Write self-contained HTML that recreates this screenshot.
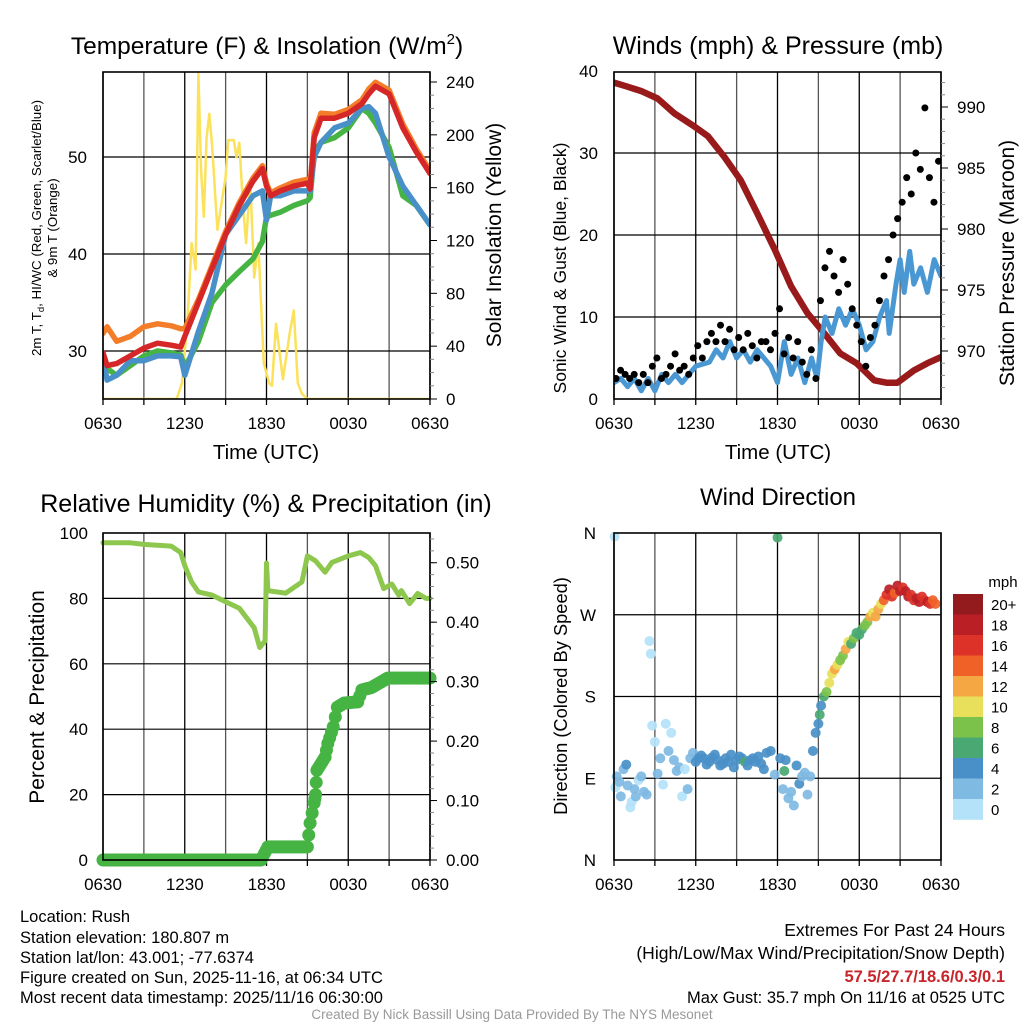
<!DOCTYPE html>
<html><head><meta charset="utf-8">
<style>
html,body{margin:0;padding:0;background:#fff;}
svg{display:block;font-family:"Liberation Sans",Arial,sans-serif;}
</style></head>
<body>
<svg id="c" width="1024" height="1024" viewBox="0 0 1024 1024" xmlns="http://www.w3.org/2000/svg">
<g id="txt">
<text x="267" y="54" font-size="24.5" text-anchor="middle">Temperature (F) &amp; Insolation (W/m<tspan dy="-10" font-size="15">2</tspan><tspan dy="10">)</tspan></text>
<text x="778" y="54" font-size="25" text-anchor="middle">Winds (mph) &amp; Pressure (mb)</text>
<text x="266" y="512" font-size="25" text-anchor="middle">Relative Humidity (%) &amp; Precipitation (in)</text>
<text x="778" y="505" font-size="24" text-anchor="middle">Wind Direction</text>
<text x="266" y="459" font-size="20.5" text-anchor="middle">Time (UTC)</text>
<text x="778" y="459" font-size="20.5" text-anchor="middle">Time (UTC)</text>
<text transform="translate(41,228) rotate(-90)" font-size="13.3" text-anchor="middle">2m T, T<tspan dy="3" font-size="9.5">d</tspan><tspan dy="-3">, HI/WC (Red, Green, Scarlet/Blue)</tspan></text>
<text transform="translate(57,228) rotate(-90)" font-size="13.3" text-anchor="middle">&amp; 9m T (Orange)</text>
<text transform="translate(501,235) rotate(-90)" font-size="21" text-anchor="middle">Solar Insolation (Yellow)</text>
<text transform="translate(566,268) rotate(-90)" font-size="17.5" text-anchor="middle">Sonic Wind &amp; Gust (Blue, Black)</text>
<text transform="translate(1014,263) rotate(-90)" font-size="21" text-anchor="middle">Station Pressure (Maroon)</text>
<text transform="translate(44,697) rotate(-90)" font-size="21" text-anchor="middle">Percent &amp; Precipitation</text>
<text transform="translate(567,696) rotate(-90)" font-size="18.3" text-anchor="middle">Direction (Colored By Speed)</text>
<text x="1003" y="587" font-size="15" text-anchor="middle">mph</text>
<g font-size="16.5">
<text x="20" y="922">Location: Rush</text>
<text x="20" y="943">Station elevation: 180.807 m</text>
<text x="20" y="963">Station lat/lon: 43.001; -77.6374</text>
<text x="20" y="983">Figure created on Sun, 2025-11-16, at 06:34 UTC</text>
<text x="20" y="1003">Most recent data timestamp: 2025/11/16 06:30:00</text>
</g>
<g font-size="17.5" text-anchor="end">
<text x="1005" y="936">Extremes For Past 24 Hours</text>
<text x="1005" y="959">(High/Low/Max Wind/Precipitation/Snow Depth)</text>
<text x="1005" y="982" fill="#c8252b" font-weight="bold" font-size="16.5">57.5/27.7/18.6/0.3/0.1</text>
<text x="1005" y="1003" font-size="16.5">Max Gust: 35.7 mph On 11/16 at 0525 UTC</text>
</g>
<text x="512" y="1019" font-size="13.5" fill="#999" text-anchor="middle">Created By Nick Bassill Using Data Provided By The NYS Mesonet</text>
</g>
</svg>
<script>
// ---------- data ----------
const xTickLabels = ["0630","1230","1830","0030","0630"];
const tempT = [0,0.3,1,2,3,4,5,5.7,6,7,8,9,10,11,11.7,12,12.3,13,14,15,15.2,15.5,16,17,18,19,19.5,20,21,22,23,24];
const tempRed = [29.8,28.5,28.7,29.5,30.3,30.8,30.6,30.4,31.5,35,38.5,42,45,47.5,48.8,47,46,46.5,47,47.3,46.7,52,54,54,54.5,55.5,56.5,57.3,56.5,53,50.5,48.3];
const tempOrange = [31.8,32.5,31,31.5,32.5,32.8,32.6,32.3,32.3,35.3,38.8,42.3,45.3,47.8,49.1,47.3,46.3,46.8,47.4,47.7,47,52.5,54.5,54.4,54.9,55.9,57,57.7,56.9,53.4,50.8,48.6];
const tempGreen = [29.3,28.2,27.5,28.5,29.5,30,29.8,29.6,28.3,31,35,36.8,38.2,39.5,41.3,43.8,44,44.3,45,45.5,45.8,50.5,51.5,52,53,55,54.5,53.5,51,46,45,43];
const tempBlue = [29.3,27,27.5,29,29,29.5,29.5,29.4,27.5,32,36,42,44,46,46.5,43.5,46,46,46.5,46.5,46.5,50,51.5,53,53.5,55,55.2,54.5,50,47,45,43];
const solarT = [0,5.4,5.8,6.2,6.5,6.8,7.0,7.2,7.4,7.6,7.8,8.0,8.4,9.0,9.2,9.6,9.8,10.0,10.3,10.5,10.8,11.1,11.4,11.8,12.2,12.4,12.7,13.2,13.7,14.0,14.3,14.6,15.0,24];
const solarV = [0,0,12,60,118,98,247,173,138,198,216,193,128,168,196,196,183,194,143,118,166,92,118,27,12,10,57,15,50,67,12,4,0,0];
const presT = [0,0.9,2,3.2,4.4,5.9,6.9,8.1,9.3,10.5,11.8,13,14.2,15.4,16.6,17.8,19.1,20,20.8,22,23,24];
const presV = [992,991.7,991.3,990.7,989.5,988.4,987.6,985.9,984,981.3,978.3,975.3,973.1,971.5,969.8,969,967.6,967.4,967.4,968.4,969,969.5];
const windT = [0,0.5,1,1.5,2,2.5,3,3.5,4,4.5,5,5.5,6,7,7.5,8,8.5,9,9.5,10,10.5,11,11.5,12,12.5,13,13.5,14,14.5,14.9,15.2,15.5,16,16.5,17,17.5,18,18.5,19,19.5,20,20.2,20.7,21,21.3,21.7,22,22.5,23,23.5,24];
const windV = [2,2.5,1.5,2.5,1,2.5,1,3,2,3,2,3,4,4.5,6,5,7,5,6,4.5,6,5,4,2,7,3,5,2,5,2.5,7,10,8,11,9,11,9,6,7,10,12,8,14,17,13,18,14,16,13,17,15];
const gustV = [2.5,3.5,3, 2.5,3,2, 3,2,4, 5,2.5,3, 4,5.5,3.5, 4,3,5, 6.5,5,7, 8,7,9, 7,8.5,6, 7.5,6,8, 6.5,5,7, 7,6,8, 11,5.5,7.5, 5,7,4.5, 3,6,2.5, 12,16,18, 15,13,17, 14,11,9, 7,4,7.5, 9,12,15, 17,20,22, 24,27,25, 30,28,35.5, 27,24,29];
const rhT = [0,2,3,5,5.7,6,6.5,7,8,9,10,11.1,11.5,11.9,12,12.1,13.4,14.6,15,15.6,16.3,16.8,18,18.9,19.5,20,20.6,21.2,21.7,21.9,22.5,23.1,23.7,24];
const rhV = [97,97,96.5,96,94,90,85,82,81,79,77,71,65,67,90.8,82.4,81.6,85,93,91.5,88,91,93,94,92.5,90,83,84.4,81,82.4,78.4,81.5,80,80];
const pcpT = [0,11.6,12.1,15.0,15.2,15.5,15.6,15.7,16.3,16.5,16.9,17.2,17.7,18.7,19.0,19.7,20.9,24];
const pcpV = [0,0,0.022,0.022,0.062,0.096,0.11,0.151,0.173,0.196,0.224,0.257,0.264,0.266,0.286,0.29,0.306,0.306];
const dirT = [0.05,0.1,0.2,0.4,0.5,0.7,0.9,1.0,1.2,1.3,1.5,1.6,1.8,2.0,2.2,2.4,2.6,2.7,2.8,3.0,3.2,3.4,3.6,3.8,4.0,4.2,4.4,4.6,4.8,5.0,5.2,5.4,5.6,5.8,6.0,6.2,6.4,6.6,6.8,7.0,7.2,7.4,7.6,7.8,8.0,8.2,8.4,8.6,8.8,9.0,9.2,9.4,9.6,9.8,10.0,10.2,10.4,10.6,10.8,11.0,11.2,11.5,11.8,12.0,12.2,12.4,12.5,12.6,12.8,13.0,13.2,13.4,13.6,13.8,14.0,14.2,14.4,14.6,14.8,15.0,15.1,15.2,15.4,15.6,15.8,16.0,16.2,16.4,16.6,16.8,17.0,17.2,17.4,17.6,17.8,18.0,18.2,18.4,18.6,18.8,19.0,19.2,19.4,19.6,19.8,20.0,20.2,20.4,20.6,20.8,21.0,21.2,21.4,21.6,21.8,22.0,22.2,22.4,22.6,22.8,23.0,23.2,23.4,23.6,23.8,24.0];
const dirV = [356,80,92,86,70,100,105,82,58,64,78,70,88,92,75,72,241,227,148,130,95,112,83,150,120,140,110,98,102,70,100,78,112,118,108,112,115,112,105,108,113,116,110,104,106,112,108,116,102,110,114,112,108,104,110,112,108,114,106,100,118,120,94,355,112,78,98,110,68,75,60,104,84,92,96,72,92,120,140,150,160,170,180,185,195,205,210,215,220,225,232,240,238,244,250,248,254,258,262,268,272,268,276,282,286,292,298,290,294,302,296,300,296,290,292,286,288,284,290,286,284,282,286,282];
const dirS = [1,1,2,3,3,3,4,2,1,1,3,3,1,2,2,3,1,1,1,1,3,3,1,1,2,1,2,3,3,1,1,3,2,3,4,4,4,4,5,4,4,5,4,4,5,4,4,5,4,5,4,5,6,4,5,4,5,4,5,5,4,5,3,7,4,3,6,4,3,3,2,4,5,3,2,2,3,4,4,5,6,5,6,9,10,11,12,11,8,9,12,10,7,8,7,6,7,8,9,12,11,13,12,11,15,16,18,17,15,19,18,16,19,18,17,16,18,19,17,16,18,17,15,14];
const cbLabels = ["20+","18","16","14","12","10","8","6","4","2","0"];
const cbColors = ["#931a1d","#bb1f26","#dc3227","#f06128","#f5a744","#e8e05a","#7bc24b","#4aa873","#4a90c8","#7fbae3","#b4e2f8"];

// ---------- helpers ----------
const NS="http://www.w3.org/2000/svg";
const svg=document.getElementById('c');
const TF=17;
function mk(tag,attrs,parent){const e=document.createElementNS(NS,tag);for(const k in attrs)e.setAttribute(k,attrs[k]);(parent||svg).appendChild(e);return e;}
function panel(x0,y0,w,h){return {x0,y0,w,h,X:t=>x0+t*w/24};}
function lin(d0,d1,p0,p1){return v=>p0+(v-d0)*(p1-p0)/(d1-d0);}
function grid(P,g,yvals,Y){
  for(let i=0;i<=8;i++){const x=P.X(i*3);
    const l=mk('line',{x1:x,x2:x,y1:P.y0,y2:P.y0+P.h,stroke:i%2?'#555':'#000','stroke-width':1.3},g);
    
    const tk=mk('line',{x1:x,x2:x,y1:P.y0+P.h,y2:P.y0+P.h+6,stroke:'#000','stroke-width':1.3},g);
    }
  yvals.forEach(v=>{const y=Y(v);const l=mk('line',{x1:P.x0,x2:P.x0+P.w,y1:y,y2:y,stroke:'#000','stroke-width':1.2},g);
    });
  xTickLabels.forEach((s,i)=>{const t=mk('text',{x:P.X(i*6),y:P.y0+P.h+30,'font-size':TF,'text-anchor':'middle'},g);t.textContent=s;
    });
}
function frame(P,g){const r=mk('rect',{x:P.x0,y:P.y0,width:P.w,height:P.h,fill:'none',stroke:'#000','stroke-width':1.6},g);
  }
function yLabels(g,vals,Y,x,anchor,fmt){vals.forEach(v=>{const t=mk('text',{x:x,y:Y(v)+6,'font-size':TF,'text-anchor':anchor},g);t.textContent=fmt?fmt(v):v;
  });}
function rightTicks(g,P,vals,Y,minor){vals.forEach(v=>{const y=Y(v);const l=mk('line',{x1:P.x0+P.w,x2:P.x0+P.w+(minor?4:7),y1:y,y2:y,stroke:minor?'#888':'#000','stroke-width':1},g);
  });}
function line(g,P,T,V,Y,color,w,name){const pts=T.map((t,i)=>P.X(t).toFixed(1)+','+Y(V[i]).toFixed(1)).join(' ');
  const l=mk('polyline',{points:pts,fill:'none',stroke:color,'stroke-width':w,'stroke-linejoin':'round','stroke-linecap':'round'},g);
  return l;}

// ---------- panel 1 ----------
const P1=panel(103,72,327,327);
const g1=mk('g',{});
const Y1=lin(30,50,351,157), Y1r=lin(0,240,399,82);
grid(P1,g1,[30,40,50],Y1);
const clip=mk('clipPath',{id:'cp1'});mk('rect',{x:P1.x0,y:P1.y0,width:P1.w,height:P1.h},clip);
const g1d=mk('g',{'clip-path':'url(#cp1)'},g1);
line(g1d,P1,solarT,solarV,Y1r,'#fbe25a',2.5,'solar-insolation-line');
line(g1d,P1,tempT,tempGreen,Y1,'#46b443',5.5,'dewpoint-line');
line(g1d,P1,tempT,tempBlue,Y1,'#4a90c8',5.5,'windchill-line');
line(g1d,P1,tempT,tempOrange,Y1,'#f47d2a',5.5,'9m-temperature-line');
line(g1d,P1,tempT,tempRed,Y1,'#d62728',5.5,'2m-temperature-line');
frame(P1,g1);
yLabels(g1,[30,40,50],Y1,87,'end');
yLabels(g1,[0,40,80,120,160,200,240],Y1r,446,'start');
const r1=[];for(let v=0;v<=240;v+=10)r1.push(v);
rightTicks(g1,P1,r1.filter(v=>v%40),Y1r,true);rightTicks(g1,P1,[0,40,80,120,160,200,240],Y1r,false);

// ---------- panel 2 ----------
const P2=panel(614,72,327,327);
const g2=mk('g',{});
const Y2=lin(0,40,399,71), Y2r=lin(970,990,351,107);
grid(P2,g2,[10,20,30],Y2);
const clip2=mk('clipPath',{id:'cp2'});mk('rect',{x:P2.x0,y:P2.y0,width:P2.w,height:P2.h},clip2);
const g2d=mk('g',{'clip-path':'url(#cp2)'},g2);
line(g2d,P2,presT,presV,Y2r,'#991a1a',6.5,'pressure-line');
line(g2d,P2,windT,windV,Y2,'#4a98d3',5,'wind-speed-line');
gustV.forEach((v,i)=>{const c=mk('circle',{cx:P2.X(i/3+0.15),cy:Y2(v),r:3.5,fill:'#000'},g2d);
  });
frame(P2,g2);
yLabels(g2,[0,10,20,30,40],Y2,598,'end');
yLabels(g2,[970,975,980,985,990],Y2r,957,'start');
rightTicks(g2,P2,[967,968,969,971,972,973,974,976,977,978,979,981,982,983,984,986,987,988,989,991,992],Y2r,true);
rightTicks(g2,P2,[970,975,980,985,990],Y2r,false);

// ---------- panel 3 ----------
const P3=panel(103,533,327,327);
const g3=mk('g',{});
const Y3=lin(0,100,860,533), Y3r=lin(0,0.55,860,533);
grid(P3,g3,[20,40,60,80],Y3);
line(g3,P3,rhT,rhV,Y3,'#8dc74d',5,'relative-humidity-line');
for(let i=0;i<pcpT.length-1;i++){const n=Math.max(2,Math.round((pcpT[i+1]-pcpT[i])*8));
  for(let k=0;k<n;k++){const f=k/n;const t=pcpT[i]+f*(pcpT[i+1]-pcpT[i]);const v=pcpV[i]+f*(pcpV[i+1]-pcpV[i]);
  const c=mk('circle',{cx:P3.X(t),cy:Y3r(v),r:6.5,fill:'#46b443'},g3);}}
const cl=mk('circle',{cx:P3.X(24),cy:Y3r(pcpV[pcpV.length-1]),r:6.5,fill:'#46b443'},g3);
frame(P3,g3);
yLabels(g3,[0,20,40,60,80,100],Y3,88,'end');
yLabels(g3,[0,0.1,0.2,0.3,0.4,0.5],Y3r,446,'start',v=>v.toFixed(2));
const r3=[];for(let v=0.02;v<0.55;v+=0.02)r3.push(v);
rightTicks(g3,P3,r3,Y3r,true);rightTicks(g3,P3,[0,0.1,0.2,0.3,0.4,0.5],Y3r,false);

// ---------- panel 4 ----------
const P4=panel(614,533,327,327);
const g4=mk('g',{});
const Y4=lin(0,360,860,533);
grid(P4,g4,[90,180,270],Y4);
const cp4=mk('clipPath',{id:'cp4'});mk('rect',{x:P4.x0-6,y:P4.y0-1,width:P4.w+12,height:P4.h+2},cp4);
const g4d=mk('g',{'clip-path':'url(#cp4)'},g4);
function spdColor(s){const idx=Math.min(10,Math.floor(s/2));return cbColors[10-idx];}
dirT.forEach((t,i)=>{const c=mk('circle',{cx:P4.X(t),cy:Y4(dirV[i]),r:5,fill:spdColor(dirS[i]),'fill-opacity':0.92},g4d);
  });
frame(P4,g4);
["N","E","S","W","N"].forEach((s,i)=>{const t=mk('text',{x:596,y:Y4(i*90)+6,'font-size':TF,'text-anchor':'end'},g4);t.textContent=s;
  });
const cb=mk('g',{},g4);
cbColors.forEach((c,i)=>{const r=mk('rect',{x:953,y:594+i*20.5,width:30,height:20.8,fill:c},cb);
  
  const t=mk('text',{x:991,y:594+i*20.5+16,'font-size':15},cb);t.textContent=cbLabels[i];
  });
svg.appendChild(document.getElementById('txt'));
</script>
</body></html>
